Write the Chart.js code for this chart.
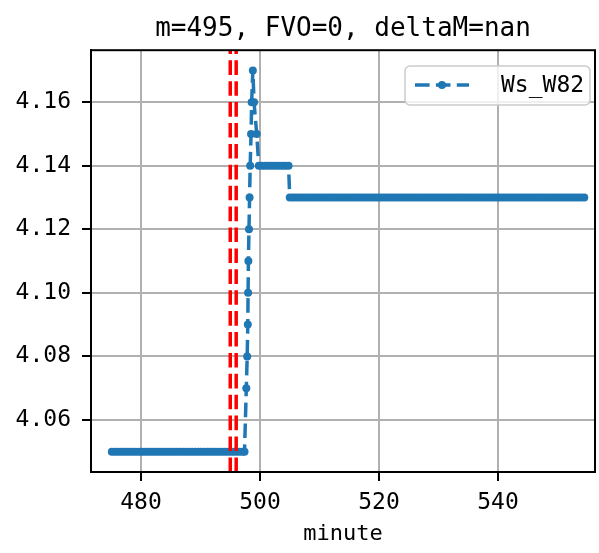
<!DOCTYPE html>
<html>
<head>
<meta charset="utf-8">
<script src="https://cdn.jsdelivr.net/npm/chart.js@4/dist/chart.umd.min.js"></script>
<style>
html, body { margin: 0; padding: 0; background: #fff; }
canvas { display: block; }
</style>
</head>
<body>
<canvas id="chart" width="599" height="553" style="width:599px;height:553px"></canvas>
<script>
// minute of each sample and the Ws_W82 reading
const minutes = [
    475.1, 475.6, 476.1, 476.6, 477.1, 477.6, 478.1, 478.6, 479.1, 479.6,
    480.1, 480.6, 481.1, 481.6, 482.1, 482.6, 483.1, 483.6, 484.1, 484.6,
    485.1, 485.6, 486.1, 486.6, 487.1, 487.6, 488.1, 488.6, 489.1, 489.6,
    490.1, 490.6, 491.1, 491.6, 492.1, 492.6, 493.1, 493.6, 494.1, 494.6,
    495.1, 495.6, 496.1, 496.6, 497.1, 497.4,
    497.7, 497.85, 497.95, 498.0, 498.05, 498.15, 498.25, 498.35, 498.5, 498.6,
    498.8, 499.0, 499.45, 499.8,
    500.3, 500.8, 501.3, 501.8, 502.3, 502.8, 503.3, 503.8, 504.3, 504.8,
    505.0, 505.5, 506.0, 506.5, 507.0, 507.5, 508.0, 508.5, 509.0, 509.5,
    510.0, 510.5, 511.0, 511.5, 512.0, 512.5, 513.0, 513.5, 514.0, 514.5,
    515.0, 515.5, 516.0, 516.5, 517.0, 517.5, 518.0, 518.5, 519.0, 519.5,
    520.0, 520.5, 521.0, 521.5, 522.0, 522.5, 523.0, 523.5, 524.0, 524.5,
    525.0, 525.5, 526.0, 526.5, 527.0, 527.5, 528.0, 528.5, 529.0, 529.5,
    530.0, 530.5, 531.0, 531.5, 532.0, 532.5, 533.0, 533.5, 534.0, 534.5,
    535.0, 535.5, 536.0, 536.5, 537.0, 537.5, 538.0, 538.5, 539.0, 539.5,
    540.0, 540.5, 541.0, 541.5, 542.0, 542.5, 543.0, 543.5, 544.0, 544.5,
    545.0, 545.5, 546.0, 546.5, 547.0, 547.5, 548.0, 548.5, 549.0, 549.5,
    550.0, 550.5, 551.0, 551.5, 552.0, 552.5, 553.0, 553.5, 554.0, 554.5
];
const wsW82 = [
    4.05, 4.05, 4.05, 4.05, 4.05, 4.05, 4.05, 4.05, 4.05, 4.05,
    4.05, 4.05, 4.05, 4.05, 4.05, 4.05, 4.05, 4.05, 4.05, 4.05,
    4.05, 4.05, 4.05, 4.05, 4.05, 4.05, 4.05, 4.05, 4.05, 4.05,
    4.05, 4.05, 4.05, 4.05, 4.05, 4.05, 4.05, 4.05, 4.05, 4.05,
    4.05, 4.05, 4.05, 4.05, 4.05, 4.05,
    4.07, 4.08, 4.09, 4.10, 4.11, 4.12, 4.13, 4.14, 4.15, 4.16,
    4.17, 4.16, 4.15, 4.14,
    4.14, 4.14, 4.14, 4.14, 4.14, 4.14, 4.14, 4.14, 4.14, 4.14,
    4.13, 4.13, 4.13, 4.13, 4.13, 4.13, 4.13, 4.13, 4.13, 4.13,
    4.13, 4.13, 4.13, 4.13, 4.13, 4.13, 4.13, 4.13, 4.13, 4.13,
    4.13, 4.13, 4.13, 4.13, 4.13, 4.13, 4.13, 4.13, 4.13, 4.13,
    4.13, 4.13, 4.13, 4.13, 4.13, 4.13, 4.13, 4.13, 4.13, 4.13,
    4.13, 4.13, 4.13, 4.13, 4.13, 4.13, 4.13, 4.13, 4.13, 4.13,
    4.13, 4.13, 4.13, 4.13, 4.13, 4.13, 4.13, 4.13, 4.13, 4.13,
    4.13, 4.13, 4.13, 4.13, 4.13, 4.13, 4.13, 4.13, 4.13, 4.13,
    4.13, 4.13, 4.13, 4.13, 4.13, 4.13, 4.13, 4.13, 4.13, 4.13,
    4.13, 4.13, 4.13, 4.13, 4.13, 4.13, 4.13, 4.13, 4.13, 4.13,
    4.13, 4.13, 4.13, 4.13, 4.13, 4.13, 4.13, 4.13, 4.13, 4.13
];
const markMinutes = [495, 496];
const xTicks = [480, 500, 520, 540];
const yTicks = [4.06, 4.08, 4.10, 4.12, 4.14, 4.16];

const X_MIN = 471.6, X_MAX = 556.3;
const Y_MIN = 4.0436, Y_MAX = 4.1764;
const FONT = "'DejaVu Sans Mono', 'Liberation Mono', monospace";
const BLUE = '#1f77b4';
const DASH = [14.6, 6.3];

const series = minutes.map((m, i) => ({ x: m, y: wsW82[i] }));

const markSets = markMinutes.map(m => ({
    label: 'm' + m,
    data: [{ x: m, y: Y_MIN }, { x: m, y: Y_MAX }],
    borderColor: 'red',
    borderWidth: 3.5,
    borderDash: DASH,
    pointRadius: 0,
    fill: false
}));

const framePlugin = {
    id: 'frame',
    afterDatasetsDraw(chart) {
        const { ctx, chartArea: a } = chart;
        ctx.save();
        ctx.strokeStyle = '#000';
        ctx.lineWidth = 2;
        ctx.strokeRect(a.left, a.top, a.right - a.left, a.bottom - a.top);
        ctx.restore();
    }
};

const legendPlugin = {
    id: 'boxLegend',
    afterDraw(chart) {
        const ctx = chart.ctx;
        ctx.save();
        ctx.beginPath();
        ctx.roundRect(405, 66, 185, 39, 5);
        ctx.fillStyle = 'rgba(255,255,255,0.8)';
        ctx.fill();
        ctx.strokeStyle = '#cccccc';
        ctx.lineWidth = 1.5;
        ctx.stroke();

        ctx.beginPath();
        ctx.setLineDash(DASH);
        ctx.strokeStyle = BLUE;
        ctx.lineWidth = 3.5;
        ctx.moveTo(415, 85);
        ctx.lineTo(469, 85);
        ctx.stroke();
        ctx.setLineDash([]);
        ctx.beginPath();
        ctx.arc(442, 85, 4, 0, Math.PI * 2);
        ctx.fillStyle = BLUE;
        ctx.fill();

        ctx.fillStyle = '#000';
        ctx.font = '23px ' + FONT;
        ctx.textBaseline = 'middle';
        ctx.textAlign = 'left';
        ctx.fillText('Ws_W82', 501, 86);
        ctx.restore();
    }
};

new Chart(document.getElementById('chart').getContext('2d'), {
    type: 'line',
    data: {
        datasets: [
            ...markSets,
            {
                label: 'Ws_W82',
                data: series,
                borderColor: BLUE,
                backgroundColor: BLUE,
                borderWidth: 3.5,
                borderDash: DASH,
                pointRadius: 4,
                pointBorderWidth: 0,
                pointBackgroundColor: BLUE,
                tension: 0,
                fill: false
            }
        ]
    },
    options: {
        responsive: false,
        animation: false,
        devicePixelRatio: 1,
        layout: { padding: { left: 0, right: 2, top: 0, bottom: 0 } },
        scales: {
            x: {
                type: 'linear',
                min: X_MIN,
                max: X_MAX,
                afterBuildTicks: (scale) => { scale.ticks = xTicks.map(v => ({ value: v })); },
                afterFit: (scale) => { scale.height = 81; },
                ticks: {
                    color: '#000',
                    font: { family: FONT, size: 23 },
                    padding: 8,
                    maxRotation: 0,
                    callback: (v) => String(v)
                },
                grid: {
                    color: '#b0b0b0',
                    lineWidth: 2,
                    tickLength: 9,
                    tickColor: '#000',
                    tickWidth: 2
                },
                border: { color: '#000', width: 2 },
                title: {
                    display: true,
                    text: 'minute',
                    color: '#000',
                    font: { family: FONT, size: 22 },
                    padding: { top: 0, bottom: 6 }
                }
            },
            y: {
                type: 'linear',
                min: Y_MIN,
                max: Y_MAX,
                afterBuildTicks: (scale) => { scale.ticks = yTicks.map(v => ({ value: v })); },
                afterFit: (scale) => { scale.width = 91; },
                ticks: {
                    color: '#000',
                    font: { family: FONT, size: 23 },
                    padding: 11,
                    callback: (v) => v.toFixed(2)
                },
                grid: {
                    color: '#b0b0b0',
                    lineWidth: 2,
                    tickLength: 9,
                    tickColor: '#000',
                    tickWidth: 2
                },
                border: { color: '#000', width: 2 }
            }
        },
        plugins: {
            legend: { display: false },
            tooltip: { enabled: false },
            title: {
                display: true,
                text: 'm=495, FVO=0, deltaM=nan',
                color: '#000',
                fullSize: false,
                font: { family: FONT, size: 26, weight: 'normal' },
                padding: { top: 14, bottom: 5 }
            }
        }
    },
    plugins: [framePlugin, legendPlugin]
});
</script>
</body>
</html>
